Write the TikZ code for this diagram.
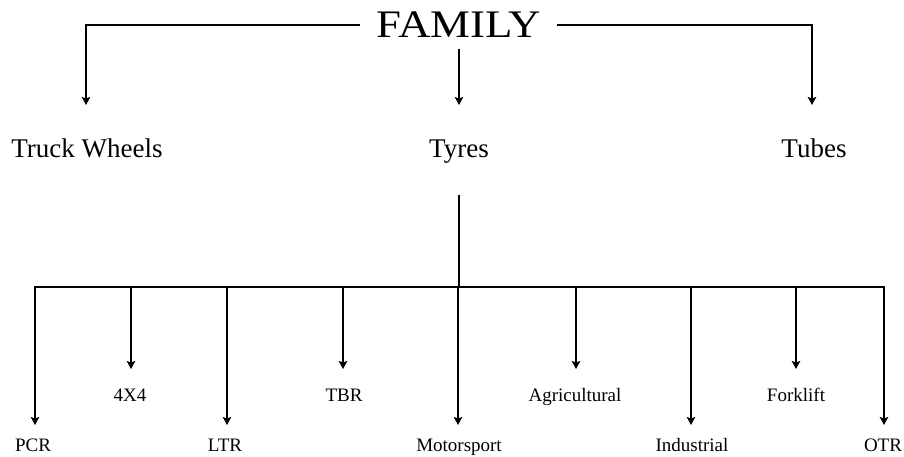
\documentclass[tikz,border=0pt]{standalone}
\usepackage{fontspec}
\setmainfont{Liberation Serif}
\usetikzlibrary{arrows.meta}
\tikzset{
  ln/.style={line width=1.8pt},
  arr/.style={ln,-{Stealth[length=8pt,width=8.5pt,inset=1.5pt]}},
  bigtxt/.style={anchor=base,inner sep=0pt,font=\fontsize{39}{44}\selectfont,xscale=1.15},
  midtxt/.style={anchor=base,inner sep=0pt,font=\fontsize{27}{30}\selectfont},
  leaf/.style={anchor=base,inner sep=0pt,font=\fontsize{19}{22}\selectfont}
}
\begin{document}
\begin{tikzpicture}[x=1pt,y=-1pt]
\useasboundingbox (0,0) rectangle (904,457);
% top level
\node[bigtxt] (fam) at (459,38) {FAMILY};
\node[midtxt] (tw) at (87,158) {Truck Wheels};
\node[midtxt] (ty) at (459,158) {Tyres};
\node[midtxt] (tb) at (814,158) {Tubes};
\coordinate (fl) at (360,25);
\coordinate (fr) at (557,25);
\coordinate (fm) at (459,49);
\coordinate (twt) at (86,105);
\coordinate (tyt) at (459,105);
\coordinate (tbt) at (812,105);
\draw[arr] (fl) -| (twt);
\draw[arr] (fr) -| (tbt);
\draw[arr] (fm) -- (tyt);
% tyres subtree
\coordinate (ts) at (459,195);
\coordinate (tj) at (459,287);
\coordinate (busL) at (35,287);
\coordinate (busR) at (884,287);
\draw[ln] (ts) -- (tj);
\draw[ln,line cap=rect] (busL) -- (busR);
% leaves
\node[leaf] (pcr) at (33,451) {PCR};
\node[leaf] (x4) at (130,401) {4X4};
\node[leaf] (ltr) at (225,451) {LTR};
\node[leaf] (tbr) at (344,401) {TBR};
\node[leaf] (mot) at (459,451) {Motorsport};
\node[leaf] (agr) at (575,401) {Agricultural};
\node[leaf] (ind) at (692,451) {Industrial};
\node[leaf] (frk) at (796,401) {Forklift};
\node[leaf] (otr) at (883,451) {OTR};
\coordinate (pcrt) at (35,425);
\coordinate (x4t) at (131,369);
\coordinate (ltrt) at (227,425);
\coordinate (tbrt) at (343,369);
\coordinate (mott) at (458,425);
\coordinate (agrt) at (576,369);
\coordinate (indt) at (691,425);
\coordinate (frkt) at (796,369);
\coordinate (otrt) at (884,425);
\draw[arr] (busL) -- (pcrt);
\draw[arr] (131,287) -- (x4t);
\draw[arr] (227,287) -- (ltrt);
\draw[arr] (343,287) -- (tbrt);
\draw[arr] (458,287) -- (mott);
\draw[arr] (576,287) -- (agrt);
\draw[arr] (691,287) -- (indt);
\draw[arr] (796,287) -- (frkt);
\draw[arr] (busR) -- (otrt);
\end{tikzpicture}
\end{document}
